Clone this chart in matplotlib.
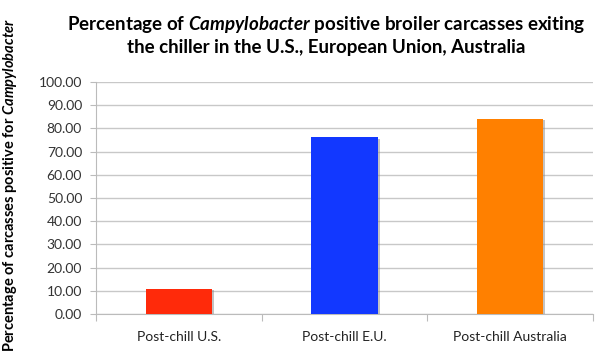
import matplotlib
matplotlib.use("Agg")
import matplotlib.pyplot as plt
import matplotlib.patheffects as pe
import numpy as np

# datos
categorias = ["Post-chill U.S.", "Post-chill E.U.", "Post-chill Australia"]
porcentajes = [10.9, 76.1, 84.2]
colores = ["#FF2A0A", "#1238FF", "#FF8000"]
yticks = np.arange(0, 101, 10)

plt.rcParams['font.family'] = ['Lato', 'DejaVu Sans']
plt.rcParams['mathtext.fontset'] = 'custom'
plt.rcParams['mathtext.it'] = 'Lato:italic:bold'
plt.rcParams['mathtext.rm'] = 'Lato:bold'
plt.rcParams['mathtext.bf'] = 'Lato:bold'

fig = plt.figure(figsize=(6, 3.63), dpi=100)
ax = fig.add_axes([0.16, 0.135, 0.828, 0.639])

x = np.arange(len(categorias))
sombra = [pe.SimplePatchShadow(offset=(1.5, -1), shadow_rgbFace='#888888', alpha=0.5), pe.Normal()]
barras = ax.bar(x, porcentajes, width=0.4, color=colores, zorder=3)
for b in barras:
    b.set_path_effects(sombra)

ax.set_xlim(-0.5, 2.5)
ax.set_ylim(0, 100)
ax.set_yticks(yticks)
ax.set_yticklabels(["%.2f" % v for v in yticks], fontsize=10, color='#333333')
ax.yaxis.grid(True, color='#C8C8C8', linewidth=1, zorder=0)

# ticks del eje x en los bordes de las categorias
ax.set_xticks([-0.5, 0.5, 1.5, 2.5])
ax.set_xticklabels([])
ax.set_xticks(x, minor=True)
ax.set_xticklabels(categorias, minor=True, fontsize=10, color='#222222')
ax.tick_params(axis='x', which='minor', length=0, pad=12)
ax.tick_params(axis='x', which='major', length=5, color='#BBBBBB')
ax.tick_params(axis='y', length=4, color='#BBBBBB', pad=6)

for s in ['top', 'right']:
    ax.spines[s].set_visible(False)
ax.spines['left'].set_color('#BBBBBB')
ax.spines['bottom'].set_color('#BBBBBB')

fig.text(0.543, 0.962, "Percentage of $\\it{Campylobacter}$ positive broiler carcasses exiting\nthe chiller in the U.S., European Union, Australia",
         ha='center', va='top', fontsize=13.5, fontweight='bold', linespacing=1.3)

ax.set_ylabel("Percentage of carcasses positive for $\\it{Campylobacter}$", fontsize=10.5,
              fontweight='bold')
ax.yaxis.set_label_coords(-0.155, 0.555)

fig.savefig("out.png", dpi=100)
